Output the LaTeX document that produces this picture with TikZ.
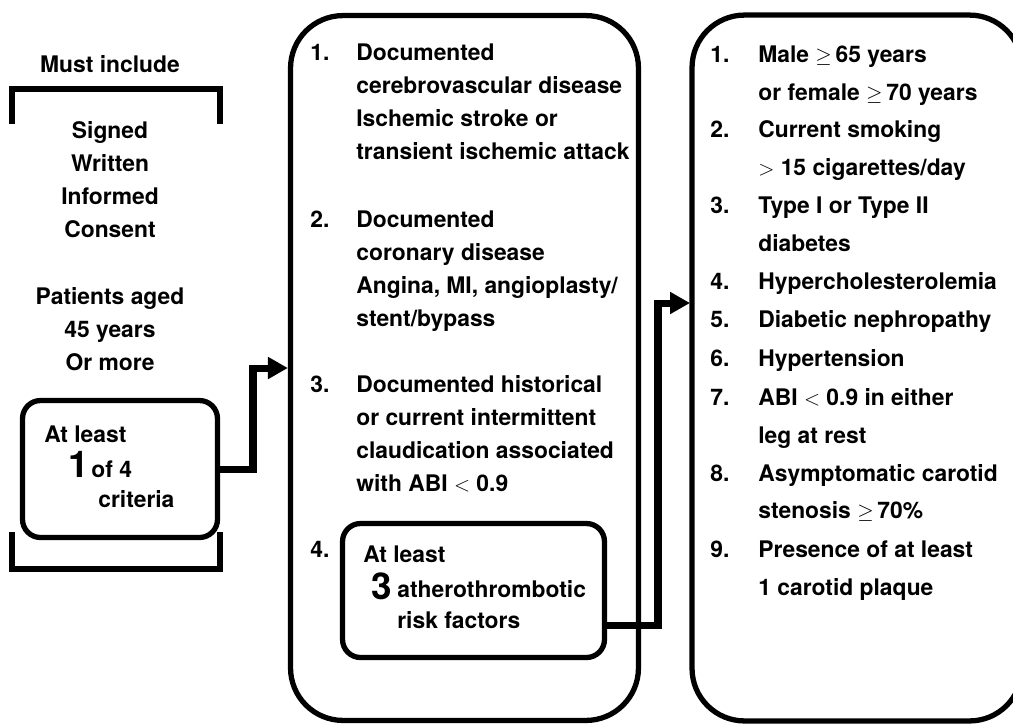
\documentclass[tikz,border=0pt]{standalone}
\usepackage{fontspec}
\setmainfont{TeX Gyre Heros}
\usepackage{amssymb}
\usetikzlibrary{arrows.meta}

\begin{document}
\begin{tikzpicture}[x=0.02cm,y=-0.02cm]
    \tikzset{
    box/.style={draw,line width=3pt,inner sep=0pt},
    txt/.style={anchor=base west,inner sep=0pt,font=\fontsize{13}{15}\selectfont\bfseries},
    ctr/.style={anchor=base,inner sep=0pt,font=\fontsize{13}{15}\selectfont\bfseries},
    big/.style={anchor=base west,inner sep=0pt,font=\fontsize{21}{21}\selectfont\bfseries},
    flow/.style={line width=4pt,-{Triangle[length=0.4cm,width=0.42cm]}},
    brk/.style={line width=3pt,line cap=butt,line join=miter},
    }
    \useasboundingbox (0,0) rectangle (1013,725);
    \clip (0,0) rectangle (1013,725);

    % left column
    \node[ctr] (inc) at (110,72) {Must include};
    \draw[brk] (12,124) -- (12,89) -- (220,89) -- (220,124);
    \node[ctr] (c1) at (110,138) {Signed};
    \node[ctr] (c2) at (110,171) {Written};
    \node[ctr] (c3) at (110,204) {Informed};
    \node[ctr] (c4) at (110,237) {Consent};
    \node[ctr] (a1) at (110,304) {Patients aged};
    \node[ctr] (a2) at (110,337) {45 years};
    \node[ctr] (a3) at (110,370) {Or more};

    \node[box,rounded corners=0.36cm,minimum width=3.9cm,minimum height=2.74cm] (sb) at (120,469) {};
    \node[txt] (sb1) at (44,442) {At least};
    \node[big] (sb2) at (68,477) {1};
    \node[txt] (sb3) at (91,477) {of 4};
    \node[txt] (sb4) at (98,507) {criteria};
    \draw[brk] (12,532) -- (12,569) -- (220,569) -- (220,532);

    % middle box
    \node[box,rounded corners=1.05cm,minimum width=6.96cm,minimum height=14.1cm] (mb) at (464.5,368) {};
    \node[txt] (m1) at (310,60) {1.};
    \node[txt] (m1a) at (356,60) {Documented};
    \node[txt] (m1b) at (356,93) {cerebrovascular disease};
    \node[txt] (m1c) at (356,126) {Ischemic stroke or};
    \node[txt] (m1d) at (356,159) {transient ischemic attack};
    \node[txt] (m2) at (310,227) {2.};
    \node[txt] (m2a) at (356,227) {Documented};
    \node[txt] (m2b) at (356,260) {coronary disease};
    \node[txt] (m2c) at (356,293) {Angina, MI, angioplasty/};
    \node[txt] (m2d) at (356,326) {stent/bypass};
    \node[txt] (m3) at (310,392) {3.};
    \node[txt] (m3a) at (356,392) {Documented historical};
    \node[txt] (m3b) at (356,425) {or current intermittent};
    \node[txt] (m3c) at (356,458) {claudication associated};
    \node[txt] (m3d) at (356,491) {with ABI $<$ 0.9};
    \node[txt] (m4) at (310,557) {4.};

    \node[box,rounded corners=0.36cm,minimum width=5.24cm,minimum height=2.68cm] (ib) at (473.5,590.5) {};
    \node[txt] (ib1) at (363,562) {At least};
    \node[big] (ib2) at (371,599) {3};
    \node[txt] (ib3) at (397,597) {atherothrombotic};
    \node[txt] (ib4) at (397,628) {risk factors};

    % right box
    \node[box,rounded corners=1.05cm,minimum width=6.6cm,minimum height=14.12cm] (rb) at (857,368) {};
    \node[txt] (r1) at (710,62) {1.};
    \node[txt] (r1a) at (758,62) {Male $\geq$\,65 years};
    \node[txt] (r1b) at (758,100) {or female $\geq$\,70 years};
    \node[txt] (r2) at (710,137) {2.};
    \node[txt] (r2a) at (758,137) {Current smoking};
    \node[txt] (r2b) at (758,175) {$>$ 15 cigarettes/day};
    \node[txt] (r3) at (710,213) {3.};
    \node[txt] (r3a) at (758,213) {Type I or Type II};
    \node[txt] (r3b) at (758,251) {diabetes};
    \node[txt] (r4) at (710,289) {4.};
    \node[txt] (r4a) at (758,289) {Hypercholesterolemia};
    \node[txt] (r5) at (710,327) {5.};
    \node[txt] (r5a) at (758,327) {Diabetic nephropathy};
    \node[txt] (r6) at (710,366) {6.};
    \node[txt] (r6a) at (758,366) {Hypertension};
    \node[txt] (r7) at (710,405) {7.};
    \node[txt] (r7a) at (758,405) {ABI $<$ 0.9 in either};
    \node[txt] (r7b) at (758,443) {leg at rest};
    \node[txt] (r8) at (710,481) {8.};
    \node[txt] (r8a) at (758,481) {Asymptomatic carotid};
    \node[txt] (r8b) at (758,518) {stenosis $\geq$\,70\%};
    \node[txt] (r9) at (710,557) {9.};
    \node[txt] (r9a) at (758,557) {Presence of at least};
    \node[txt] (r9b) at (758,595) {1 carotid plaque};

    % connectors
    \coordinate (ibout) at (607,625);
    \coordinate (rbin) at (690,303);
    \draw[flow] (sb.east) -- (253,469) |- (mb.west);
    \draw[flow] (ibout) -- (658,625) |- (rbin);

\end{tikzpicture}
\end{document}
